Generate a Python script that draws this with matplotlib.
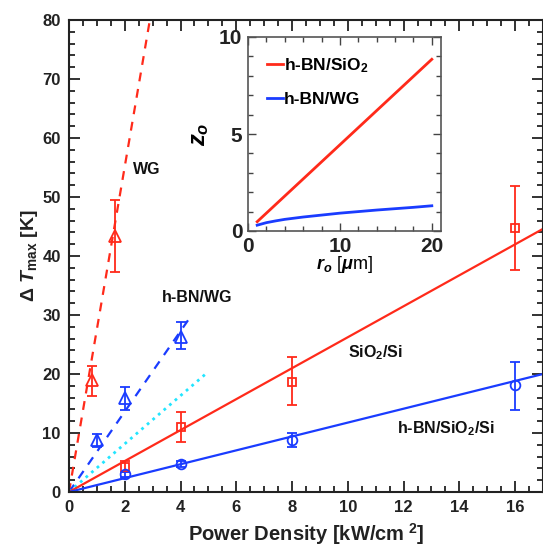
import matplotlib
matplotlib.use("Agg")
import matplotlib.pyplot as plt
import numpy as np
from matplotlib.ticker import MultipleLocator

plt.rcParams['font.family'] = ['Liberation Sans', 'DejaVu Sans']
plt.rcParams['font.weight'] = 'bold'
plt.rcParams['mathtext.fontset'] = 'custom'
plt.rcParams['mathtext.rm'] = 'Liberation Sans:bold'
plt.rcParams['mathtext.it'] = 'Liberation Sans:bold:italic'
plt.rcParams['mathtext.bf'] = 'Liberation Sans:bold'
plt.rcParams['mathtext.sf'] = 'Liberation Sans'

# ---- data: main panel ----
wg_x = [0.82, 1.64]
wg_y = [19.0, 43.4]
wg_lo = [16.3, 37.3]
wg_hi = [21.4, 49.5]

hbnwg_x = [1.0, 2.0, 4.0]
hbnwg_y = [8.8, 15.9, 26.3]
hbnwg_lo = [7.6, 13.9, 24.2]
hbnwg_hi = [9.8, 17.8, 28.8]

sio2_x = [2.0, 4.0, 8.0, 16.0]
sio2_y = [4.2, 11.0, 18.6, 44.7]
sio2_lo = [3.4, 8.5, 14.7, 37.6]
sio2_hi = [5.3, 13.6, 22.9, 51.9]

hbnsio2_x = [2.0, 4.0, 8.0, 16.0]
hbnsio2_y = [3.0, 4.7, 8.8, 18.1]
hbnsio2_lo = [2.6, 4.2, 7.6, 13.9]
hbnsio2_hi = [3.4, 5.2, 10.0, 22.0]

# fit lines: start / end points
fit_wg_x = [0, 2.9];      fit_wg_y = [0, 80]
fit_hbnwg_x = [0, 4.4];   fit_hbnwg_y = [0, 30]
fit_cyan_x = [0, 4.9];    fit_cyan_y = [0, 20]
fit_sio2_x = [0, 17];     fit_sio2_y = [0, 44.6]
fit_hbnsio2_x = [0, 17];  fit_hbnsio2_y = [0, 20]

# ---- data: inset ----
r_red = [1, 20]
z_red = [0.48, 8.85]
r_blue = [1, 2, 3, 4, 6, 8, 10, 12, 14, 16, 18, 20]
z_blue = [0.3, 0.43, 0.52, 0.6, 0.72, 0.82, 0.92, 1.0, 1.08, 1.15, 1.22, 1.3]

RED = '#ff2a1a'
BLUE = '#1a3cff'
CYAN = '#22e5ff'

fig = plt.figure(figsize=(5.43, 5.49), dpi=100)
ax = fig.add_axes([69/543, 1-492/549, 474/543, 472/549])

def err(x, y, lo, hi):
    y = np.array(y); return [y - np.array(lo), np.array(hi) - y]

ax.plot(fit_wg_x, fit_wg_y, '--', color=RED, lw=1.6, dashes=(4, 3.5))
ax.plot(fit_hbnwg_x, fit_hbnwg_y, '--', color=BLUE, lw=1.6, dashes=(4, 3.5))
ax.plot(fit_cyan_x, fit_cyan_y, ':', color=CYAN, lw=2.0)
ax.plot(fit_sio2_x, fit_sio2_y, '-', color=RED, lw=1.6)
ax.plot(fit_hbnsio2_x, fit_hbnsio2_y, '-', color=BLUE, lw=1.6)

ekw = dict(ls='none', capsize=3.5, elinewidth=1.3, capthick=1.3, mfc='none', mew=1.3)
ax.errorbar(wg_x, wg_y, yerr=err(wg_x, wg_y, wg_lo, wg_hi), marker='^', ms=8.5, color=RED, **ekw)
ax.errorbar(hbnwg_x, hbnwg_y, yerr=err(hbnwg_x, hbnwg_y, hbnwg_lo, hbnwg_hi), marker='^', ms=8.5, color=BLUE, **ekw)
ax.errorbar(sio2_x, sio2_y, yerr=err(sio2_x, sio2_y, sio2_lo, sio2_hi), marker='s', ms=6, color=RED, **ekw)
ax.errorbar(hbnsio2_x, hbnsio2_y, yerr=err(hbnsio2_x, hbnsio2_y, hbnsio2_lo, hbnsio2_hi), marker='o', ms=7, color=BLUE, **ekw)

ax.set_xlim(0, 17)
ax.set_ylim(0, 80)
ax.set_xticks([0, 2, 4, 6, 8, 10, 12, 14, 16])
ax.set_yticks([0, 10, 20, 30, 40, 50, 60, 70, 80])
ax.xaxis.set_minor_locator(MultipleLocator(0.5))
ax.yaxis.set_minor_locator(MultipleLocator(2))
ax.tick_params(which='both', direction='in', top=True, right=True, color='#222222', width=1.3)
ax.tick_params(which='major', length=8, labelsize=12, pad=6)
ax.tick_params(which='minor', length=4.5)
for s in ax.spines.values():
    s.set_linewidth(1.5); s.set_color('#222222')
for lab in ax.get_xticklabels() + ax.get_yticklabels():
    lab.set_fontweight('bold'); lab.set_color('#222222')

ax.set_xlabel('Power Density [kW/cm$^{\\ 2}$]', fontsize=14.5, fontweight='bold', labelpad=4, color='#222222')
ax.set_ylabel('$\\Delta\\ \\mathit{T}_{\\mathsf{max}}$ [K]', fontsize=14, fontweight='bold', labelpad=2, color='#222222')

tk = dict(fontsize=11.5, fontweight='bold', ha='center', va='center', color='#111111')
ax.text(2.8, 54.6, 'WG', **tk)
ax.text(4.6, 33.0, 'h-BN/WG', **tk)
ax.text(11.0, 23.7, 'SiO$_2$/Si', **tk)
ax.text(13.5, 10.8, 'h-BN/SiO$_2$/Si', **tk)

# ---- inset ----
ins = fig.add_axes([248/543, 1-231/549, 193/543, 194/549])
ins.plot(r_red, z_red, color=RED, lw=2.0, label='h-BN/SiO$_2$')
ins.plot(r_blue, z_blue, color=BLUE, lw=2.0, label='h-BN/WG')
ins.set_xlim(0, 21)
ins.set_ylim(0, 10)
ins.set_xticks([0, 10, 20])
ins.set_yticks([0, 5, 10])
ins.xaxis.set_minor_locator(MultipleLocator(2))
ins.yaxis.set_minor_locator(MultipleLocator(1))
ins.tick_params(which='both', direction='in', top=True, right=True, color='#444444', width=1.0)
ins.tick_params(which='major', length=6, labelsize=15, pad=4)
ins.tick_params(which='minor', length=3.5)
for s in ins.spines.values():
    s.set_linewidth(1.2); s.set_color('#555555')
for lab in ins.get_xticklabels() + ins.get_yticklabels():
    lab.set_fontweight('bold'); lab.set_color('#222222')
ins.set_xlabel('$r_o$ [$\\mu$m]', fontsize=13, labelpad=-1)
ins.set_ylabel('$z_o$', fontsize=17, labelpad=6)
leg = ins.legend(loc='upper left', frameon=False, fontsize=12.5, handlelength=0.9,
                 handletextpad=0.05, labelspacing=1.0, borderaxespad=0.7)
for t in leg.get_texts():
    t.set_fontweight('bold')

fig.savefig('out.png', dpi=100)
